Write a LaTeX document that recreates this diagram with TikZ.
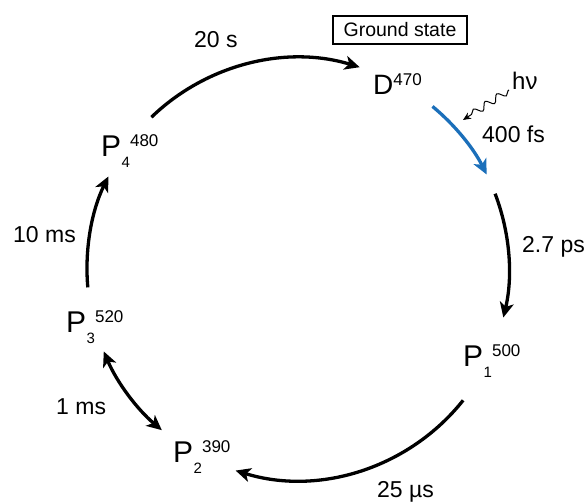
\documentclass[tikz,border=0pt]{standalone}
\usepackage{fontspec}
\setmainfont{Liberation Sans}
\usetikzlibrary{arrows.meta,decorations.pathmorphing,calc}
\definecolor{arcblue}{RGB}{27,111,186}
\newcommand{\fsz}[1]{\fontsize{#1}{#1}\selectfont}
\newcommand{\stlab}[3]{{\fsz{30}#1}\hspace{0.5pt}\raisebox{-11pt}{\fsz{15}#2}\hspace{0pt}\raisebox{10pt}{\fsz{17}#3}}
\newcommand{\dlab}[2]{{\fsz{28}#1}\raisebox{9.5pt}{\fsz{17}#2}}
\begin{document}
\begin{tikzpicture}[x=1pt,y=1pt,
  lab/.style={anchor=base west,inner sep=0pt,font=\fsz{23}},
  state/.style={anchor=base west,inner sep=0pt},
  arcarrow/.style={line width=3.3pt,-{Stealth[length=15pt,width=14pt,inset=4pt]}},
  dblarrow/.style={line width=3.3pt,{Stealth[length=15pt,width=14pt,inset=4pt]}-{Stealth[length=15pt,width=14pt,inset=4pt]}},
  blueline/.style={arcarrow,draw=arcblue},
  boxed/.style={draw,line width=1.1pt,minimum width=134pt,minimum height=28pt,inner sep=0pt,font=\fsz{19.5}}]
\useasboundingbox (0,0) rectangle (587,502);
\coordinate (C) at (298,233);
% state labels
\node[state] (D) at (373,407) {\dlab{D}{470}};
\node[state] (P4) at (101,345) {\stlab{P}{4}{480}};
\node[state] (P3) at (66,169) {\stlab{P}{3}{520}};
\node[state] (P2) at (173,39) {\stlab{P}{2}{390}};
\node[state] (P1) at (463,135) {\stlab{P}{1}{500}};
\node[boxed] (GS) at (400,472) {Ground state};
% time labels
\node[lab] (t20s) at (194,454) {20 s};
\node[lab] (t400fs) at (482,359) {400 fs};
\node[lab] (t27ps) at (522,249) {2.7 ps};
\node[lab] (t10ms) at (13,259) {10 ms};
\node[lab] (t1ms) at (56,87) {1 ms};
\node[lab] (t25us) at (377,4) {25 µs};
\node[state,font=\fsz{24}] (hv) at (512,412) {hν};
% arc end points
\coordinate (a1) at ($(C)+(134:211)$);
\coordinate (b1) at ($(C)+(50.4:211)$);
\coordinate (c1) at ($(C)+(20.9:211)$);
\coordinate (d1) at ($(C)+(-38.5:211)$);
\coordinate (e1) at ($(C)+(-130.2:211)$);
\coordinate (f1) at ($(C)+(185:211)$);
\draw[arcarrow] (a1) arc[start angle=134,end angle=73,radius=211];
\draw[blueline] (b1) arc[start angle=50.4,end angle=26.6,radius=211];
\draw[arcarrow] (c1) arc[start angle=20.9,end angle=-13.3,radius=211];
\draw[arcarrow] (d1) arc[start angle=-38.5,end angle=-107.2,radius=211];
\draw[dblarrow] (e1) arc[start angle=-130.2,end angle=-157,radius=211];
\draw[arcarrow] (f1) arc[start angle=185,end angle=154,radius=211];
% photon
\coordinate (hvs) at (509,412);
\coordinate (hvt) at (463,382);
\draw[line width=1pt,-{Stealth[length=8pt,width=7pt,inset=2.5pt]},
  decorate,decoration={snake,segment length=14pt,amplitude=3.5pt,pre length=1pt,post length=6pt}]
  (hvs) -- (hvt);
\end{tikzpicture}
\end{document}
